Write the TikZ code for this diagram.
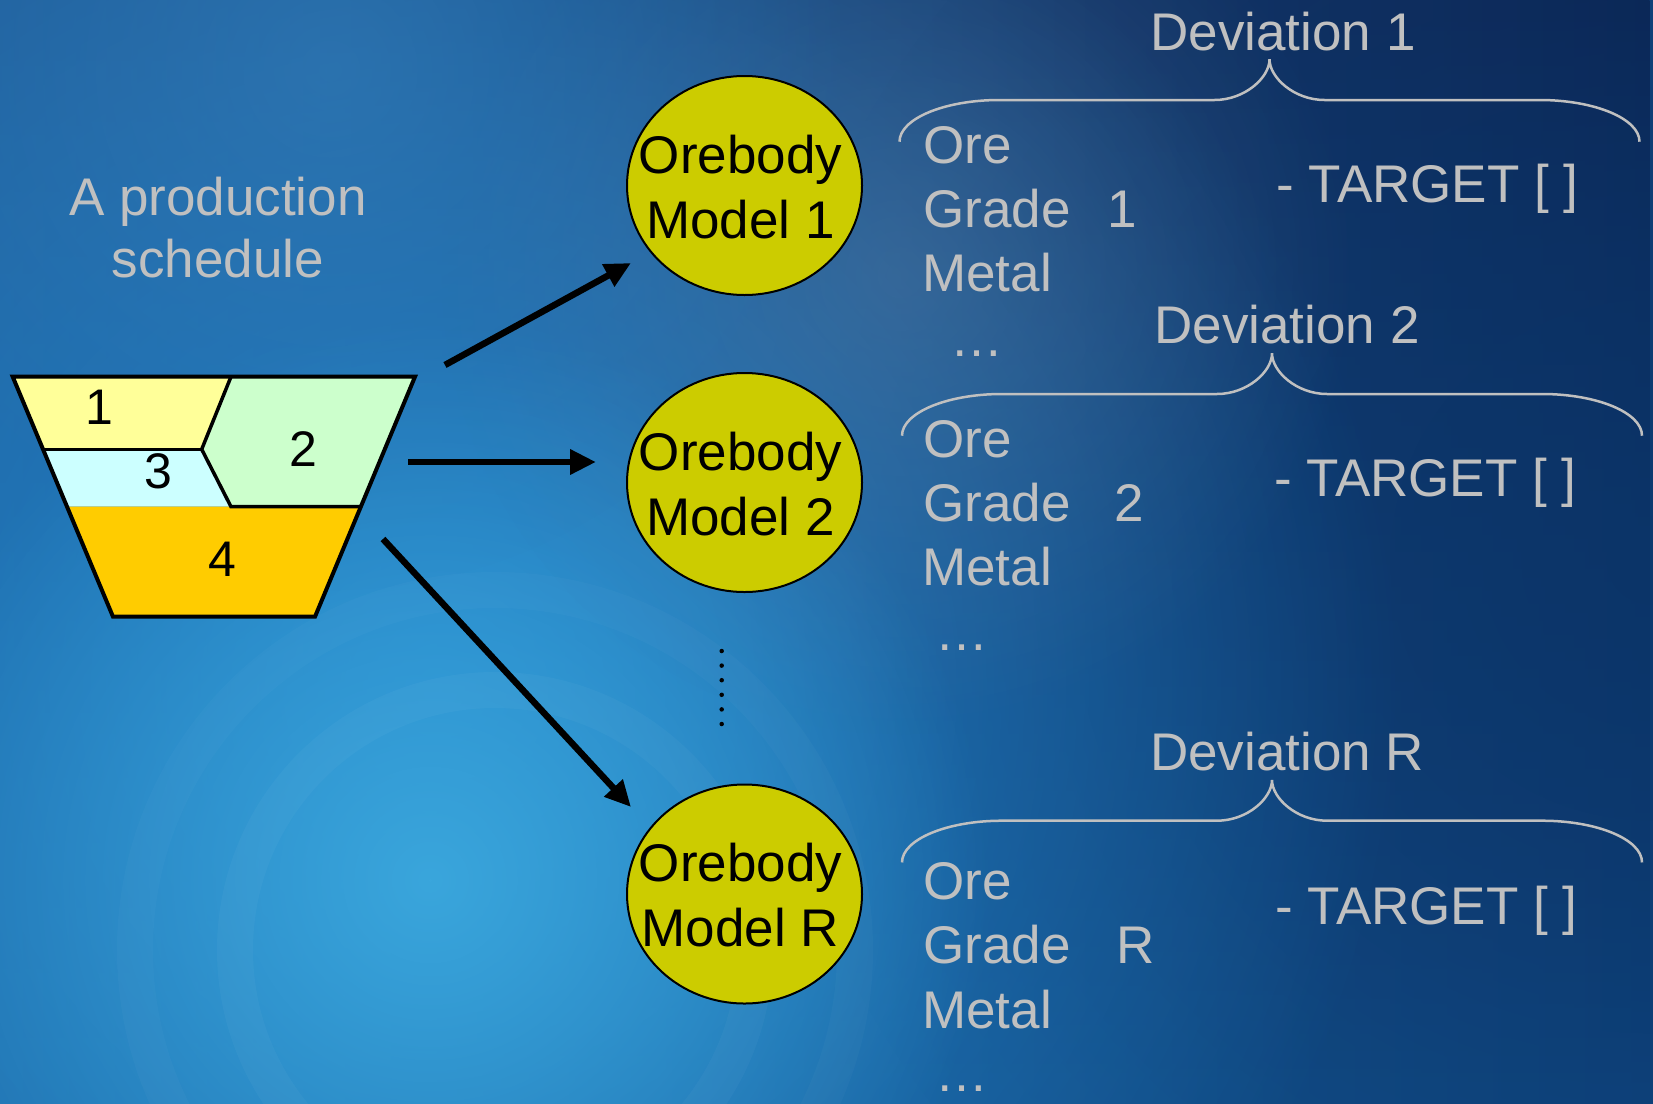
\documentclass[tikz,border=0pt]{standalone}
\usepackage{fontspec}
\setmainfont{Liberation Sans}
\usetikzlibrary{shapes.geometric,arrows.meta,fadings}
\definecolor{txt}{HTML}{C0C0C0}
\definecolor{modelfill}{RGB}{204,204,0}
\definecolor{bgUL}{RGB}{31,90,150}
\definecolor{bgUR}{RGB}{12,36,82}
\definecolor{bgLL}{RGB}{31,106,166}
\definecolor{bgLR}{RGB}{15,70,128}
\definecolor{bgMR}{RGB}{11,52,104}
\definecolor{glowA}{RGB}{34,130,200}
\definecolor{glowB}{RGB}{58,166,220}
\definecolor{haze}{RGB}{106,132,164}
\definecolor{glowC}{RGB}{52,126,186}
\definecolor{cellA}{HTML}{FFFF99}
\definecolor{cellB}{HTML}{CCFFCC}
\definecolor{cellC}{HTML}{CCFFFF}
\definecolor{cellD}{HTML}{FFCC00}
\tikzfading[name=glowfade, inner color=transparent!0, outer color=transparent!100]
\tikzfading[name=topfade, top color=transparent!0, bottom color=transparent!100]
\tikzset{
  devbrace/.pic={
    \draw[draw=txt, line width=2.5pt]
      (-370,82.4) .. controls (-370,59.4) and (-325,40.7) .. (-270,40.7)
      -- (-55,40.7) .. controls (-24.6,40.7) and (0,18.2) .. (0,0)
      .. controls (0,18.2) and (24.6,40.7) .. (55,40.7)
      -- (270,40.7) .. controls (325,40.7) and (370,59.4) .. (370,82.4);
  }
}
\begin{document}
\begin{tikzpicture}[x=1pt,y=-1pt,
  lbl/.style={text=txt, font=\fontsize{53}{64}\selectfont, inner sep=0pt, anchor=base west},
  dev/.style={text=txt, font=\fontsize{53}{64}\selectfont, inner sep=0pt, anchor=base},
  model/.style={ellipse, draw=black, line width=2pt, fill=modelfill, minimum width=235pt, minimum height=219pt, inner sep=0pt},
  mtext/.style={font=\fontsize{53}{65}\selectfont, align=center, inner sep=0pt, text=black},
  arr/.style={line width=6.5pt, -{Triangle[length=26pt,width=24pt]}},
  digit/.style={font=\fontsize{50}{60}\selectfont, inner sep=0pt, text=black},
  outline/.style={draw=black, line width=4pt, line join=miter},
  inner line/.style={draw=black, line width=3.5pt}
]
\useasboundingbox (0,0) rectangle (1653,1103);
% background
\shade[left color=bgLL, right color=bgLR] (0,0) rectangle (1653,1103);
\shade[left color=bgUL, right color=bgUR, path fading=topfade] (0,0) rectangle (1653,1103);
\begin{scope}
\clip (0,0) rectangle (1653,1103);
\fill[bgMR, path fading=glowfade, fill opacity=0.7] (1650,560) circle (900);
\fill[glowA, path fading=glowfade] (440,690) circle (960);
\fill[glowB, path fading=glowfade] (430,880) circle (560);
\fill[haze, path fading=glowfade, fill opacity=0.35] (900,275) circle (460);
\fill[glowC, path fading=glowfade, fill opacity=0.6] (330,70) circle (520);
\draw[white, opacity=0.03, line width=36pt] (495,950) circle (260);
\draw[white, opacity=0.025, line width=36pt] (495,950) circle (360);
\end{scope}

% trapezoid (production schedule)
\coordinate (T1) at (12.7,376.7);
\coordinate (T2) at (415,376.7);
\coordinate (T3) at (315,616.7);
\coordinate (T4) at (113,616.7);
\coordinate (D1) at (231,376.7);
\coordinate (D2) at (201.7,449.3);
\coordinate (L3) at (43,449.3);
\coordinate (D3) at (231,506.7);
\coordinate (R3) at (360.8,506.7);
\coordinate (L4) at (67,506.7);
\fill[cellA] (T1) -- (D1) -- (D2) -- (L3) -- cycle;
\fill[cellB] (D1) -- (T2) -- (R3) -- (D3) -- (D2) -- cycle;
\fill[cellC] (L3) -- (D2) -- (D3) -- (L4) -- cycle;
\fill[cellD] (L4) -- (R3) -- (T3) -- (T4) -- cycle;
\draw[inner line] (D1) -- (D2) -- (D3) -- (R3);
\draw[inner line] (L3) -- (D2);
\draw[outline] (T1) -- (T2) -- (T3) -- (T4) -- cycle;
\node[digit] (c1) at (99,407.2) {1};
\node[digit] (c2) at (303.3,448.7) {2};
\node[digit] (c3) at (158,471.3) {3};
\node[digit] (c4) at (222.8,559) {4};

\node[text=txt, font=\fontsize{53}{62}\selectfont, align=center, inner sep=0pt, anchor=north] (title) at (218,177) {A production\\schedule};

% models
\node[model] (m1) at (744.5,185.5) {};
\node[mtext] (m1t) at (740.5,186.8) {Orebody\\Model 1};
\node[model] (m2) at (744.5,482.5) {};
\node[mtext] (m2t) at (740.5,483.8) {Orebody\\Model 2};
\node[model] (mR) at (744.5,894) {};
\node[mtext] (mRt) at (740.5,895.3) {Orebody\\Model R};

% arrows
\coordinate (a1s) at (445,365);
\coordinate (a1e) at (631,263);
\coordinate (a2s) at (408,462);
\coordinate (a2e) at (596,462);
\coordinate (a3s) at (383,539);
\coordinate (a3e) at (631,807);
\draw[arr] (a1s) -- (a1e);
\draw[arr] (a2s) -- (a2e);
\draw[arr] (a3s) -- (a3e);

% vertical dots
\coordinate (v1) at (721.7,651);
\coordinate (v2) at (721.7,725);
\draw[black, line width=4.5pt, line cap=round, dash pattern=on 0pt off 14.6pt] (v1) -- (v2);

% deviation 1
\node[dev] (dev1) at (1283,50) {Deviation 1};
\pic at (1269.5,59.3) {devbrace};
\node[lbl] (ore1) at (923,163.3) {Ore};
\node[lbl] (grade1) at (923,227.7) {Grade\hspace{37pt}1};
\node[lbl] (metal1) at (922,291) {Metal};
\node[lbl] (dots1) at (950,356) {…};
\node[lbl] (tgt1) at (1276,202.3) {- TARGET [ ]};

% deviation 2
\node[dev] (dev2) at (1287,343.5) {Deviation 2};
\pic at (1272,353.3) {devbrace};
\node[lbl] (ore2) at (923,457.3) {Ore};
\node[lbl] (grade2) at (923,521.7) {Grade\hspace{44pt}2};
\node[lbl] (metal2) at (922,585) {Metal};
\node[lbl] (dots2) at (935.6,650) {…};
\node[lbl] (tgt2) at (1274,496.3) {- TARGET [ ]};

% deviation R
\node[dev] (devR) at (1287,770.7) {Deviation R};
\pic at (1272,780) {devbrace};
\node[lbl] (oreR) at (923,899.3) {Ore};
\node[lbl] (gradeR) at (923,963.3) {Grade\hspace{46pt}R};
\node[lbl] (metalR) at (922,1028.3) {Metal};
\node[lbl] (dotsR) at (935.6,1091) {…};
\node[lbl] (tgtR) at (1275,924) {- TARGET [ ]};
\end{tikzpicture}
\end{document}
